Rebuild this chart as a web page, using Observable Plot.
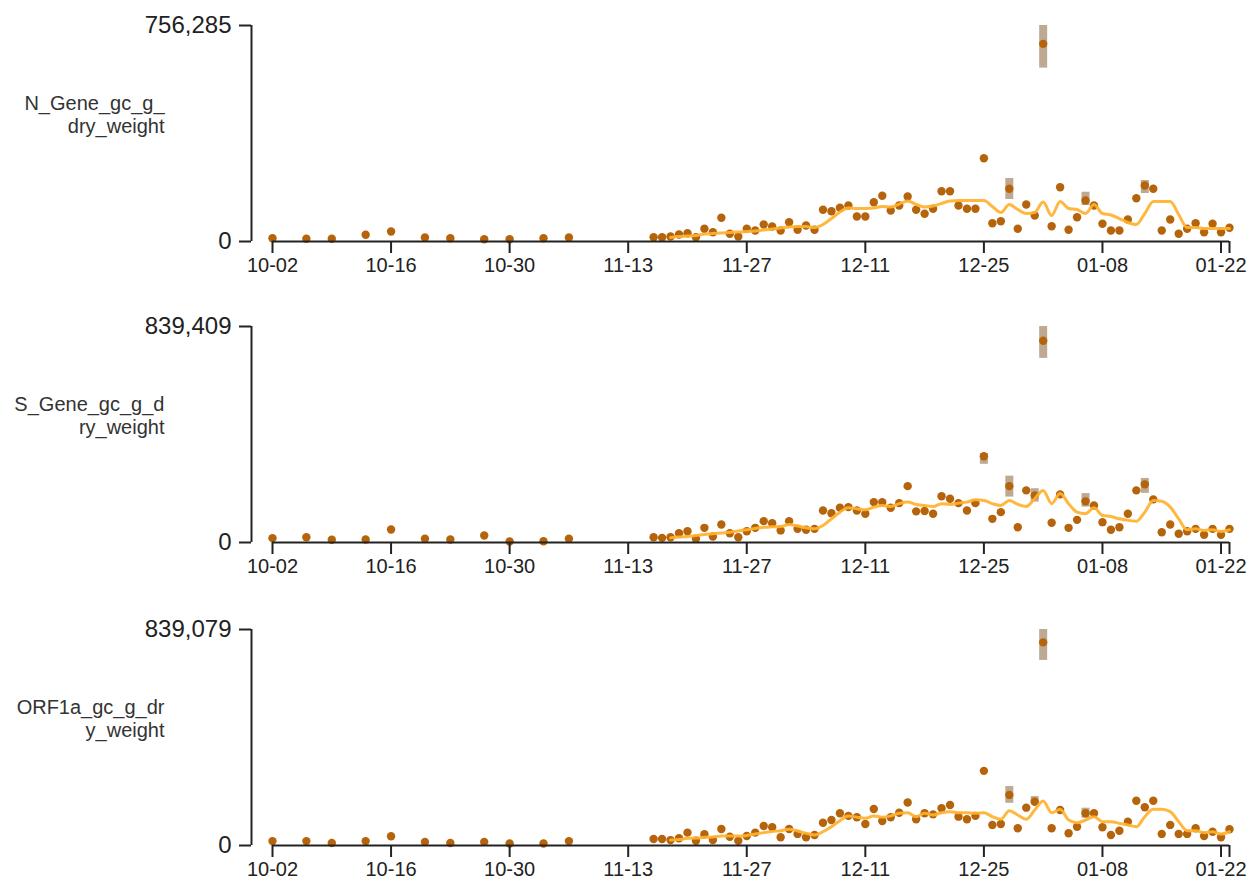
<!DOCTYPE html>
<html>
<head>
<meta charset="utf-8">
<script src="https://cdn.jsdelivr.net/npm/d3@7"></script>
<script src="https://cdn.jsdelivr.net/npm/@observablehq/plot@0.6"></script>
<style>
html, body { margin: 0; padding: 0; background: #fff; overflow: hidden; }
svg { display: block; }
</style>
</head>
<body>
<div id="chart"></div>
<script>
// ---- categories (MM-DD; Oct–Dec = 2020, Jan = 2021) ----
const earlyDates = ["10-02","10-06","10-09","10-13","10-16","10-20","10-23","10-27","10-30","11-03","11-06"];
const dailyDates = [
  "11-16","11-17","11-18","11-19","11-20","11-21","11-22","11-23","11-24","11-25","11-26","11-27","11-28","11-29","11-30",
  "12-01","12-02","12-03","12-04","12-05","12-06","12-07","12-08","12-09","12-10","12-11","12-12","12-13","12-14","12-15",
  "12-16","12-17","12-18","12-19","12-20","12-21","12-22","12-23","12-24","12-25","12-26","12-27","12-28","12-29","12-30","12-31",
  "01-01","01-02","01-03","01-04","01-05","01-06","01-07","01-08","01-09","01-10","01-11","01-12","01-13","01-14","01-15",
  "01-16","01-17","01-18","01-19","01-20","01-21","01-22","01-23"
];
const lineDates = dailyDates.slice(2); // 11-18 .. 01-23
const xTickLabels = ["10-02","10-16","10-30","11-13","11-27","12-11","12-25","01-08","01-22"];
const domainStart = "10-02", domainEnd = "01-23";

// ---- panel labels & y maxima ----
const panelLabels = ["N_Gene_gc_g_\ndry_weight", "S_Gene_gc_g_d\nry_weight", "ORF1a_gc_g_dr\ny_weight"];
const yMax = [756285, 839409, 839079];

// ---- N gene ----
const nEarly = [11500, 9500, 9500, 23500, 35000, 14000, 11500, 8000, 8000, 11500, 14000];
const nDaily = [
  15000,15000,17500,24500,29000,15000,44500,32500,83000,27000,17500,44500,38500,59500,52500,
  38500,67500,41000,56000,41000,111000,106000,118000,126000,87500,87500,137500,160000,108500,126000,
  157500,111000,97000,114500,176000,176000,126000,114500,114500,291500,64000,71000,184500,44500,129500,91000,
  692000,53500,190000,41000,85000,143500,126000,62000,38500,38500,77000,151500,196000,184500,38500,
  77000,27000,44500,64000,32500,62000,32500,48000
];
const nLine = [
  14000,17500,19000,21000,26000,28000,30000,31500,33000,35000,37000,40000,44000,
  47000,51000,52500,52500,49000,59500,80500,103000,117000,115500,115500,117000,122500,121000,131000,
  142000,129500,121000,124000,133000,142000,143500,143500,143500,143500,122500,101500,129500,112000,98000,101500,
  138000,91000,140000,115500,112000,98000,129500,98000,93000,80500,66500,59500,98000,140000,140000,
  140000,94500,49000,49000,45500,45500,45500,45500
];
const nErrDates = ["12-28","01-01","01-06","01-13"];
const nErrLo = [147000, 607000, 126000, 168000];
const nErrHi = [220500, 756285, 172600, 213500];

// ---- S gene ----
const sEarly = [17000, 20500, 10500, 11500, 50500, 14500, 11500, 27000, 4000, 5000, 14500];
const sDaily = [
  20500,18000,20500,36000,44000,14500,57000,23500,70000,36000,20500,44000,57000,83000,75000,
  47000,83000,53000,49500,53000,124500,114000,135000,137500,124500,112000,157000,157000,135000,153000,
  219000,121000,122500,112000,180000,170000,153000,124500,153000,335000,92000,118000,219000,59500,202500,183000,
  784000,76500,187000,57000,88000,160000,144000,79000,49500,59500,112000,202500,226000,167500,40000,
  70000,34000,44000,53000,30000,53000,30000,53000
];
const sLine = [
  18000,21500,23500,27000,31000,34000,37000,40000,45000,49500,54500,59500,61000,
  62000,70000,64000,57000,53000,66000,92000,118000,135000,131000,127000,137500,144000,140000,151000,
  157000,148000,144000,140000,151000,148000,153000,157000,166000,163500,151000,144000,163500,148000,140000,170000,
  202500,151000,190000,151000,118000,112000,135000,105000,101000,92000,86000,83000,118000,163500,160000,
  137500,92000,49500,53000,47000,49500,43000,49500
];
const sErrDates = ["12-25","12-28","12-31","01-01","01-06","01-13"];
const sErrLo = [304000, 176500, 157000, 715500, 137500, 191000];
const sErrHi = [345500, 258000, 209000, 839409, 190000, 249000];

// ---- ORF1a ----
const oEarly = [17000, 17000, 10000, 17000, 36000, 14000, 10000, 14000, 8000, 8000, 17000];
const oDaily = [
  25000,25000,21000,28000,50000,18500,43500,21000,64000,34000,18500,37000,50000,76000,71000,
  32000,64000,45000,32000,41000,88500,99000,125000,115000,110000,83500,142000,95000,110000,127500,
  167000,102000,125000,121000,145000,157500,112000,102000,115000,290000,80000,83500,196500,67000,147000,170000,
  789000,67000,138000,47500,73000,125000,125000,71000,41000,57500,92500,174000,148500,174000,45000,
  80000,45000,45000,67000,37000,53500,32000,63000
];
const oLine = [
  21000,23000,28000,29000,32000,33000,37000,37000,37000,39000,45000,50000,54500,
  57500,63000,56500,47500,41000,53500,73000,96500,115000,110000,106000,115000,110000,115000,125000,
  127500,112000,125000,118500,127500,131500,127500,127500,125000,127500,112000,102000,135000,118500,102000,138000,
  173000,127500,141000,99000,88500,99000,112000,92500,92500,86000,80000,73000,112000,141000,141000,
  131500,92500,57500,57500,50000,53500,45000,53500
];
const oErrDates = ["12-28","12-31","01-01","01-06"];
const oErrLo = [164000, 164000, 719000, 106000];
const oErrHi = [229000, 190000, 839079, 145000];

// ---- build ----
const parse = s => { const [m, d] = s.split("-").map(Number); return new Date(Date.UTC(m >= 10 ? 2020 : 2021, m - 1, d)); };
const xStart = parse(domainStart), xEnd = parse(domainEnd);
const allDates = earlyDates.concat(dailyDates);
const fmt = d3.utcFormat("%m-%d");
const numFmt = d3.format(",");

const series = [
  {values: nEarly.concat(nDaily), line: nLine, errD: nErrDates, errLo: nErrLo, errHi: nErrHi},
  {values: sEarly.concat(sDaily), line: sLine, errD: sErrDates, errLo: sErrLo, errHi: sErrHi},
  {values: oEarly.concat(oDaily), line: oLine, errD: oErrDates, errLo: oErrLo, errHi: oErrHi}
];
const layout = [
  {height: 301, top: 25, bottom: 60},
  {height: 301, top: 25, bottom: 60},
  {height: 278, top: 27, bottom: 35}
];

const POINT = "#b5640c", LINE = "#ffb12e", ERR = "#a88c6e";
const chart = document.getElementById("chart");

series.forEach((s, i) => {
  const pts = allDates.map((d, j) => ({date: parse(d), value: s.values[j]}));
  const ln = lineDates.map((d, j) => ({date: parse(d), value: s.line[j]}));
  const err = s.errD.map((d, j) => ({date: parse(d), lo: s.errLo[j], hi: s.errHi[j]}));
  const max = yMax[i];
  const L = layout[i];
  const plot = Plot.plot({
    width: 1252,
    height: L.height,
    marginLeft: 251,
    marginRight: 23,
    marginTop: L.top,
    marginBottom: L.bottom,
    style: {fontFamily: "'Liberation Sans', Arial, Helvetica, sans-serif", background: "#fff", color: "#222"},
    x: {type: "utc", domain: [xStart, xEnd], insetLeft: 21, label: null},
    y: {domain: [0, max], label: null},
    marks: [
      Plot.ruleX(err, {x: "date", y1: "lo", y2: "hi", stroke: ERR, strokeWidth: 8, strokeOpacity: 0.75}),
      Plot.dot(pts, {x: "date", y: "value", r: 4.2, fill: POINT}),
      Plot.line(ln, {x: "date", y: "value", stroke: LINE, strokeWidth: 3, strokeOpacity: 0.92, curve: "monotone-x"}),
      // x axis domain line
      Plot.ruleY([{y: 0, x1: xStart, x2: xEnd}], {y: "y", x1: "x1", x2: "x2", stroke: "#222", strokeWidth: 2}),
      // y axis domain line (offset left of the first date)
      Plot.ruleX([{x: xStart, y1: 0, y2: max}], {x: "x", y1: "y1", y2: "y2", dx: -21, stroke: "#222", strokeWidth: 2}),
      Plot.axisX({
        ticks: xTickLabels.map(parse).concat([xEnd]),
        tickFormat: d => (+d === +xEnd ? "" : fmt(d)),
        tickSize: 12, tickPadding: 4, fontSize: 20, strokeWidth: 2, label: null
      }),
      Plot.axisY({
        ticks: [0, max], tickFormat: d => numFmt(d),
        tickSize: 12, tickPadding: 8, fontSize: 24, strokeWidth: 2, label: null
      }),
      Plot.text([panelLabels[i]], {
        frameAnchor: "left", dx: -87, dy: -19, textAnchor: "end",
        fontSize: 20, lineHeight: 1.15, fill: "#333"
      })
    ]
  });
  chart.appendChild(plot);
});
</script>
</body>
</html>
